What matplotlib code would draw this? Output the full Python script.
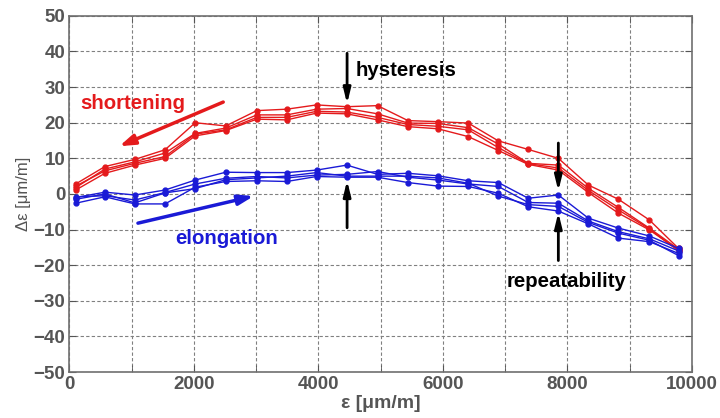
import matplotlib
matplotlib.use("Agg")
import matplotlib.pyplot as plt

x = [100, 570, 1050, 1535, 2020, 2510, 3010, 3490, 3970, 4456, 4950,
     5437, 5920, 6407, 6890, 7370, 7854, 8336, 8820, 9316, 9785]

red_runs = [
    [2.8, 7.7, 9.7, 12.4, 20.0, 19.1, 23.4, 23.8, 25.0, 24.5, 24.8, 20.6, 20.3, 19.9, 14.9, 12.5, 10.0, 2.5, -1.5, -7.3, -15.3],
    [1.8, 7.0, 9.0, 11.5, 17.0, 18.5, 22.2, 22.2, 23.8, 24.0, 22.5, 19.9, 19.8, 18.6, 14.0, 8.6, 8.1, 1.6, -3.8, -9.6, -15.5],
    [1.1, 5.8, 8.1, 10.0, 16.3, 17.8, 21.0, 20.8, 22.7, 22.5, 20.8, 18.9, 18.3, 16.1, 12.2, 8.3, 6.7, 0.4, -5.4, -10.1, -15.8],
    [2.2, 6.5, 8.6, 10.5, 16.8, 18.0, 21.5, 21.5, 23.2, 23.0, 21.5, 19.5, 19.0, 18.0, 13.0, 8.5, 7.3, 1.0, -4.5, -9.8, -16.0],
]
blue_runs = [
    [-1.0, 0.5, -0.3, 1.1, 3.9, 6.1, 6.0, 6.0, 6.7, 8.1, 5.5, 5.8, 5.1, 3.7, 3.2, -1.2, -0.3, -6.8, -9.6, -11.8, -15.3],
    [-0.8, -0.5, -1.7, 0.4, 2.8, 4.4, 4.9, 4.5, 5.3, 5.5, 6.3, 4.7, 3.9, 2.8, 2.1, -2.4, -2.6, -7.6, -10.6, -12.6, -16.0],
    [-2.6, -0.8, -2.8, -2.8, 1.9, 3.5, 3.7, 3.5, 4.9, 4.7, 4.7, 3.2, 2.2, 2.1, 0.2, -3.6, -4.8, -8.4, -12.4, -13.4, -16.7],
    [-1.5, 0.0, -2.5, 0.3, 1.5, 4.0, 4.5, 5.0, 6.0, 5.0, 5.0, 5.0, 4.5, 3.0, -0.6, -3.0, -3.5, -8.0, -11.0, -13.0, -17.3],
]

xticks = [0, 2000, 4000, 6000, 8000, 10000]
yticks = [-50, -40, -30, -20, -10, 0, 10, 20, 30, 40, 50]

RED = "#e41a1c"
BLUE = "#1a1ad6"
GRAY = "#555555"

plt.rcParams['font.family'] = ['Liberation Sans', 'DejaVu Sans']

fig = plt.figure(figsize=(7.2, 4.18), dpi=100)
ax = fig.add_axes([0.0965, 0.110, 0.8645, 0.852])

for run in red_runs:
    ax.plot(x, run, color=RED, lw=1.0, marker='o', ms=3.5, zorder=3)
for run in blue_runs:
    ax.plot(x, run, color=BLUE, lw=1.0, marker='o', ms=3.5, zorder=3)

ax.set_xlim(0, 10000)
ax.set_ylim(-50, 50)
ax.set_xticks(xticks)
ax.set_yticks(yticks)
ax.set_xticks(range(0, 10001, 1000), minor=True)
ax.grid(True, which='both', axis='x', ls=(0, (3, 2)), color='#808080', lw=0.8)
ax.grid(True, which='major', axis='y', ls=(0, (3, 2)), color='#808080', lw=0.8)
ax.tick_params(which='both', direction='in', top=True, right=True, length=5,
               color=GRAY, labelsize=13.5, labelcolor=GRAY, pad=3)
ax.tick_params(which='minor', length=5)
for lab in ax.get_xticklabels() + ax.get_yticklabels():
    lab.set_fontweight('bold')
for s in ax.spines.values():
    s.set_color('#707070')
    s.set_linewidth(1.2)

ax.set_xlabel("ε [μm/m]", fontsize=14, fontweight='bold', color=GRAY, labelpad=1)
ax.set_ylabel("Δε [μm/m]", fontsize=12, color=GRAY, labelpad=2)

ap = dict(arrowstyle='-|>,head_length=0.9,head_width=0.22', lw=2, color='black',
          shrinkA=0, shrinkB=0)
ax.annotate("", xy=(4460, 25.3), xytext=(4460, 39.5), arrowprops=ap, zorder=5)
ax.annotate("", xy=(4460, 3.8), xytext=(4460, -9.5), arrowprops=ap, zorder=5)
ax.annotate("", xy=(7854, 0.8), xytext=(7854, 14.3), arrowprops=ap, zorder=5)
ax.annotate("", xy=(7854, -5.2), xytext=(7854, -18.7), arrowprops=ap, zorder=5)

ap_r = dict(arrowstyle='-|>,head_length=0.9,head_width=0.3', lw=2.5, color=RED,
            shrinkA=0, shrinkB=0)
ax.annotate("", xy=(800, 13.4), xytext=(2470, 25.8), arrowprops=ap_r, zorder=5)
ap_b = dict(arrowstyle='-|>,head_length=0.9,head_width=0.3', lw=2.5, color=BLUE,
            shrinkA=0, shrinkB=0)
ax.annotate("", xy=(2960, -0.6), xytext=(1100, -8.2), arrowprops=ap_b, zorder=5)

ax.text(4590, 34.8, "hysteresis", fontsize=14.7, fontweight='bold', color='black',
        ha='left', va='center')
ax.text(170, 25.3, "shortening", fontsize=14.7, fontweight='bold', color=RED,
        ha='left', va='center')
ax.text(2530, -12.4, "elongation", fontsize=14.7, fontweight='bold', color=BLUE,
        ha='center', va='center')
ax.text(7980, -24.7, "repeatability", fontsize=14.7, fontweight='bold', color='black',
        ha='center', va='center')

fig.savefig("out.png", dpi=100)
